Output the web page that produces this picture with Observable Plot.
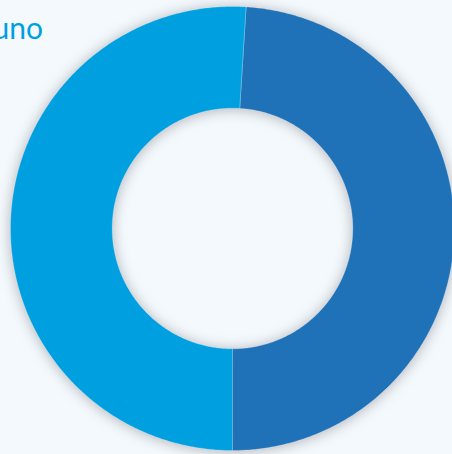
<!DOCTYPE html>
<html>
<head>
<meta charset="utf-8">
<script src="https://cdn.jsdelivr.net/npm/d3@7"></script>
<script src="https://cdn.jsdelivr.net/npm/@observablehq/plot@0.6"></script>
<style>
  html, body { margin: 0; padding: 0; background: #f4f9fd; overflow: hidden; }
  #chart svg { display: block; }
</style>
</head>
<body>
<div id="chart"></div>
<script>
const categories = ["uno", "due"];
const values = [51, 49];
const colors = ["#009fe0", "#1f72b8"];
const titleLabel = ["uno"];

const innerRatio = 0.542;
const pie = d3.pie().sort(null).startAngle(Math.PI).endAngle(3 * Math.PI);
const arcs = pie(values);

const pts = [];
arcs.forEach((a, i) => {
  const n = Math.max(60, Math.ceil((a.endAngle - a.startAngle) * 120));
  for (let k = 0; k <= n; k++) {
    const t = a.startAngle + (a.endAngle - a.startAngle) * k / n;
    pts.push({cat: categories[i], x: Math.sin(t), y: Math.cos(t)});
  }
  for (let k = n; k >= 0; k--) {
    const t = a.startAngle + (a.endAngle - a.startAngle) * k / n;
    pts.push({cat: categories[i], x: innerRatio * Math.sin(t), y: innerRatio * Math.cos(t)});
  }
});

const W = 452, H = 454, cx = 232, cy = 228, R = 222;
const chart = Plot.plot({
  width: W, height: H,
  margin: 0,
  style: {background: "#f4f9fd", overflow: "visible"},
  x: {domain: [-cx / R, (W - cx) / R], axis: null},
  y: {domain: [-(H - cy) / R, cy / R], axis: null},
  color: {domain: categories, range: colors},
  marks: [
    Plot.line(pts, {x: "x", y: "y", z: "cat", fill: "cat", stroke: "rgba(255,255,255,0.35)", strokeWidth: 0.6, curve: "linear-closed"}),
    Plot.text(titleLabel, {text: d => d, frameAnchor: "top-left", dx: -8, dy: 17, fill: "#009fe0", fontSize: 30, fontWeight: 400, fontFamily: "Lato, 'Open Sans', sans-serif", textAnchor: "start"})
  ]
});
const g = chart.querySelector("g[aria-label='line']");
if (g) g.style.filter = "drop-shadow(0px 1px 7px rgba(0,0,0,0.28))";
document.getElementById("chart").appendChild(chart);
</script>
</body>
</html>
